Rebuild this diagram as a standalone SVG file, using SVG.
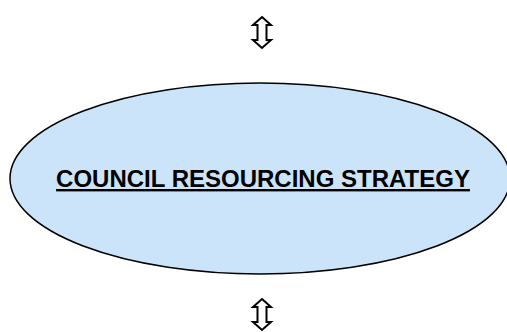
<svg xmlns="http://www.w3.org/2000/svg" width="507" height="332" viewBox="0 0 507 332">
<style>
.arrow{fill:#ffffff;stroke:#000000;stroke-width:2;stroke-linejoin:miter}
.node{fill:#cce4fa;stroke:#000000;stroke-width:1.5}
.label{font-family:"Liberation Sans",Arial,sans-serif;font-weight:bold;font-size:24px;text-decoration:underline;fill:#000000}
</style>
<rect width="507" height="332" fill="#ffffff"/>
<g id="connectors">
<path class="arrow" d="M262,17 L271,25 L266.5,25 L266.5,40 L271,40 L262,48 L253,40 L257.5,40 L257.5,25 L253,25 Z"/>
<path class="arrow" d="M262,299 L271,307 L266.5,307 L266.5,322 L271,322 L262,330 L253,322 L257.5,322 L257.5,307 L253,307 Z"/>
</g>
<g id="council-resourcing-strategy">
<ellipse class="node" cx="260" cy="178.5" rx="250" ry="95.5"/>
<text class="label" x="263" y="187" text-anchor="middle">COUNCIL RESOURCING STRATEGY</text>
</g>
</svg>
